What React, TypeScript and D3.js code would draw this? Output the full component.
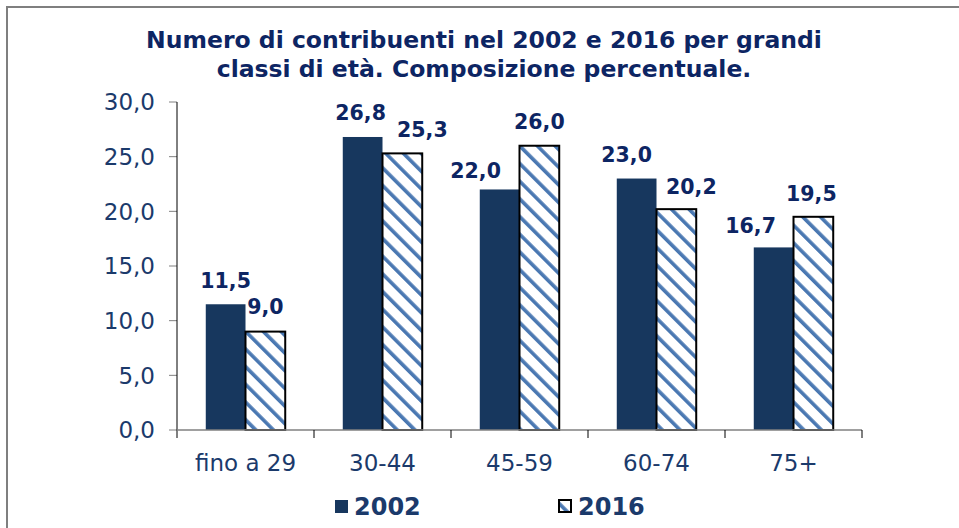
import React from "react";
import * as d3 from "d3";

const categories = ["fino a 29", "30-44", "45-59", "60-74", "75+"];
const series2002 = [11.5, 26.8, 22.0, 23.0, 16.7];
const series2016 = [9.0, 25.3, 26.0, 20.2, 19.5];
const seriesNames = ["2002", "2016"];
const yTicks = [0, 5, 10, 15, 20, 25, 30];
const titleLines = [
  "Numero di contribuenti  nel 2002 e 2016 per grandi",
  "classi di età. Composizione percentuale.",
];

// label placement adjustments (layout only)
const shift2002 = [0, -2, -24, -10, -23];
const gap2002 = [16, 17, 11.5, 17, 14.5];
const shift2016 = [0, 20, 0, 15, -2];
const gap2016 = [18, 16.5, 17, 15, 16];

const W = 959;
const H = 528;
const M = { left: 177, right: 862, top: 102, bottom: 430 };
const NAVY = "#17375e";
const HATCH = "#4a78b2";
const TEXT = "#0d2563";
const LABEL = "#1b3a6b";

const fmt = (v: number) => v.toFixed(1).replace(".", ",");

export default function App() {
  const x = d3.scaleBand<string>().domain(categories).range([M.left, M.right]);
  const y = d3.scaleLinear().domain([0, 30]).range([M.bottom, M.top]);
  const bw = x.bandwidth() * 0.29;
  const font = "Verdana, 'DejaVu Sans', sans-serif";

  return (
    <svg
      width={W}
      height={H}
      style={{ position: "absolute", left: 0, top: 0, background: "#fff" }}
    >
      <defs>
        <pattern
          id="hatch"
          patternUnits="userSpaceOnUse"
          width={12.5}
          height={12.5}
          patternTransform="rotate(-45)"
        >
          <rect width={12.5} height={12.5} fill="#fff" />
          <rect x={0} y={0} width={3.6} height={12.5} fill={HATCH} />
        </pattern>
      </defs>
      {/* frame */}
      <line x1={6} y1={7} x2={W} y2={7} stroke="#7f7f7f" strokeWidth={2} />
      <line x1={7} y1={6} x2={7} y2={H} stroke="#7f7f7f" strokeWidth={2} />

      {/* title */}
      <text
        x={484}
        textAnchor="middle"
        fontFamily={font}
        fontWeight="bold"
        fontSize={23.5}
        fill={TEXT}
      >
        {titleLines.map((t, i) => (
          <tspan key={i} x={484} y={48 + i * 29}>
            {t}
          </tspan>
        ))}
      </text>

      {/* y axis */}
      {yTicks.map((t) => (
        <g key={t}>
          <line x1={169} x2={M.left} y1={y(t)} y2={y(t)} stroke="#808080" strokeWidth={1} />
          <text
            x={155}
            y={y(t)}
            dy="0.36em"
            textAnchor="end"
            fontFamily={font}
            fontSize={23}
            fill={LABEL}
          >
            {fmt(t)}
          </text>
        </g>
      ))}
      <line x1={M.left} x2={M.left} y1={M.top} y2={M.bottom + 8} stroke="#000" strokeWidth={1} />

      {/* bars */}
      {categories.map((c, i) => {
        const cx = (x(c) as number) + x.bandwidth() / 2;
        const v1 = series2002[i];
        const v2 = series2016[i];
        return (
          <g key={c}>
            <rect x={cx - bw} y={y(v1)} width={bw} height={M.bottom - y(v1)} fill={NAVY} />
            <rect
              x={cx}
              y={y(v2)}
              width={bw}
              height={M.bottom - y(v2)}
              fill="url(#hatch)"
              stroke="#000"
              strokeWidth={2}
            />
            <text
              x={cx - bw / 2 + shift2002[i]}
              y={y(v1) - gap2002[i]}
              textAnchor="middle"
              fontFamily={font}
              fontWeight="bold"
              fontSize={20.5}
              fill={TEXT}
            >
              {fmt(v1)}
            </text>
            <text
              x={cx + bw / 2 + shift2016[i]}
              y={y(v2) - gap2016[i]}
              textAnchor="middle"
              fontFamily={font}
              fontWeight="bold"
              fontSize={20.5}
              fill={TEXT}
            >
              {fmt(v2)}
            </text>
            <text
              x={cx}
              y={471}
              textAnchor="middle"
              fontFamily={font}
              fontSize={23}
              fill={LABEL}
            >
              {c}
            </text>
          </g>
        );
      })}

      {/* x axis */}
      <line x1={M.left} x2={M.right} y1={M.bottom} y2={M.bottom} stroke="#808080" strokeWidth={1.5} />
      {categories.map((c) => (
        <line
          key={c}
          x1={(x(c) as number) + x.bandwidth()}
          x2={(x(c) as number) + x.bandwidth()}
          y1={M.bottom}
          y2={M.bottom + 8}
          stroke="#000"
          strokeWidth={1}
        />
      ))}

      {/* legend */}
      <rect x={335} y={500} width={13} height={13} fill={NAVY} />
      <text x={354} y={515} fontFamily={font} fontWeight="bold" fontSize={24} fill={LABEL}>
        {seriesNames[0]}
      </text>
      <rect x={559} y={500} width={12} height={12} fill="url(#hatch)" stroke="#000" strokeWidth={2} />
      <text x={578} y={515} fontFamily={font} fontWeight="bold" fontSize={24} fill={LABEL}>
        {seriesNames[1]}
      </text>
    </svg>
  );
}
